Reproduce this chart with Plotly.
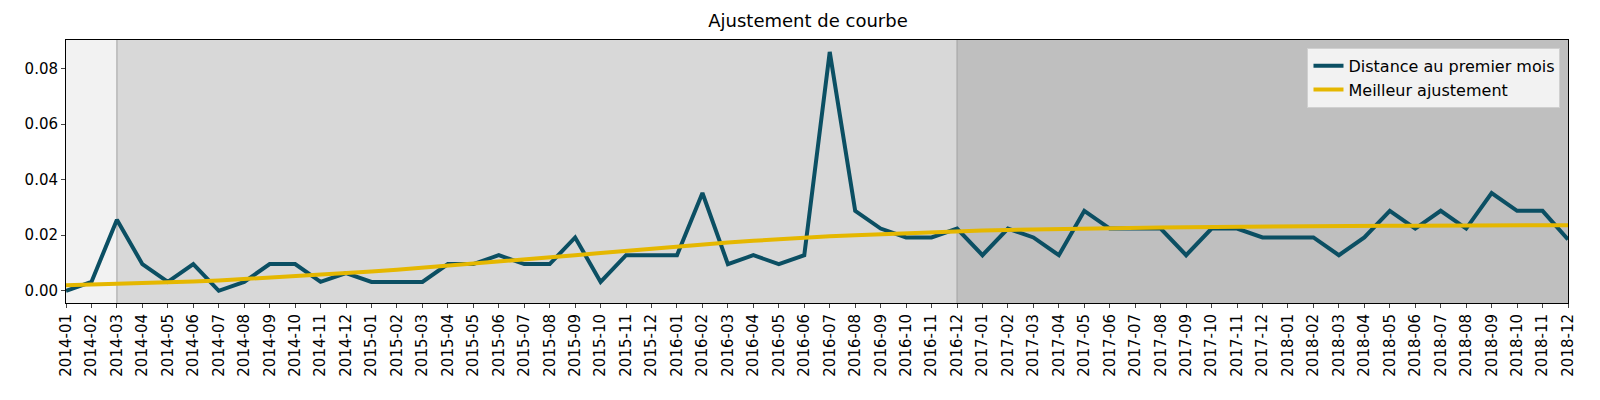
import plotly.graph_objects as go

months = [f"{y}-{m:02d}" for y in range(2014, 2019) for m in range(1, 13)]

distance = [
    0.0, 0.0032, 0.0256, 0.0096, 0.0032, 0.0096, 0.0, 0.0032, 0.0096, 0.0096, 0.0032, 0.0064,
    0.0032, 0.0032, 0.0032, 0.0096, 0.0096, 0.0128, 0.0096, 0.0096, 0.0192, 0.0032, 0.0128, 0.0128,
    0.0128, 0.0352, 0.0096, 0.0128, 0.0096, 0.0128, 0.0860, 0.0288, 0.0224, 0.0192, 0.0192, 0.0224,
    0.0128, 0.0224, 0.0192, 0.0128, 0.0288, 0.0224, 0.0224, 0.0224, 0.0128, 0.0224, 0.0224, 0.0192,
    0.0192, 0.0192, 0.0128, 0.0192, 0.0288, 0.0224, 0.0288, 0.0224, 0.0352, 0.0288, 0.0288, 0.0185,
]

fit = [
    0.0020, 0.0022, 0.0025, 0.0027, 0.0030, 0.0033, 0.0037, 0.0042, 0.0047, 0.0052, 0.0057, 0.0063,
    0.0069, 0.0076, 0.0083, 0.0090, 0.0097, 0.0104, 0.0112, 0.0120, 0.0128, 0.0136, 0.0144, 0.0152,
    0.0160, 0.0167, 0.0174, 0.0180, 0.0186, 0.0191, 0.0196, 0.0200, 0.0204, 0.0208, 0.0211, 0.0214,
    0.0217, 0.0219, 0.0221, 0.0223, 0.0225, 0.0226, 0.0227, 0.0228, 0.0229, 0.0230, 0.0231, 0.0232,
    0.0232, 0.0233, 0.0233, 0.0234, 0.0234, 0.0234, 0.0235, 0.0235, 0.0235, 0.0235, 0.0236, 0.0236,
]

# shaded periods: (start month, end month, colour)
periods = [("2014-01", "2014-03", "#f2f2f2"),
           ("2014-03", "2016-12", "#d8d8d8"),
           ("2016-12", "2018-12", "#bfbfbf")]

x = list(range(len(months)))

fig = go.Figure()
fig.add_trace(go.Scatter(x=x, y=distance, mode="lines", name="Distance au premier mois",
                         line=dict(color="#0b4f63", width=4)))
fig.add_trace(go.Scatter(x=x, y=fit, mode="lines", name="Meilleur ajustement",
                         line=dict(color="#e5b700", width=4)))

for a, b, c in periods:
    fig.add_vrect(x0=months.index(a), x1=months.index(b), fillcolor=c, opacity=1,
                  layer="below", line_width=0)
for a in ["2014-03", "2016-12"]:
    fig.add_vline(x=months.index(a), line=dict(color="#a0a0a0", width=1), layer="below")

fig.update_layout(
    width=1600, height=400,
    margin=dict(l=58, r=40, t=32, b=105, autoexpand=False),
    paper_bgcolor="white", plot_bgcolor="white",
    font=dict(family="DejaVu Sans", size=15, color="black"),
    title=dict(text="Ajustement de courbe", x=0.5, xanchor="center", y=0.985, yanchor="top",
               font=dict(size=18)),
    legend=dict(x=0.995, y=0.97, xanchor="right", yanchor="top", bgcolor="#f2f2f2",
                bordercolor="#d0d0d0", borderwidth=1, font=dict(size=16)),
    showlegend=True,
)
fig.update_xaxes(range=[0, len(months) - 1], tickmode="array", tickvals=x, ticktext=months,
                 tickangle=-90, showgrid=False, zeroline=False, ticks="outside", ticklen=4,
                 showline=True, linecolor="black", mirror=True, automargin=False)
fig.update_yaxes(range=[-0.0044, 0.0903], tickvals=[0, 0.02, 0.04, 0.06, 0.08],
                 tickformat=".2f", showgrid=False, zeroline=False, ticks="outside", ticklen=4,
                 showline=True, linecolor="black", mirror=True, automargin=False)

fig.write_html("out.html")
